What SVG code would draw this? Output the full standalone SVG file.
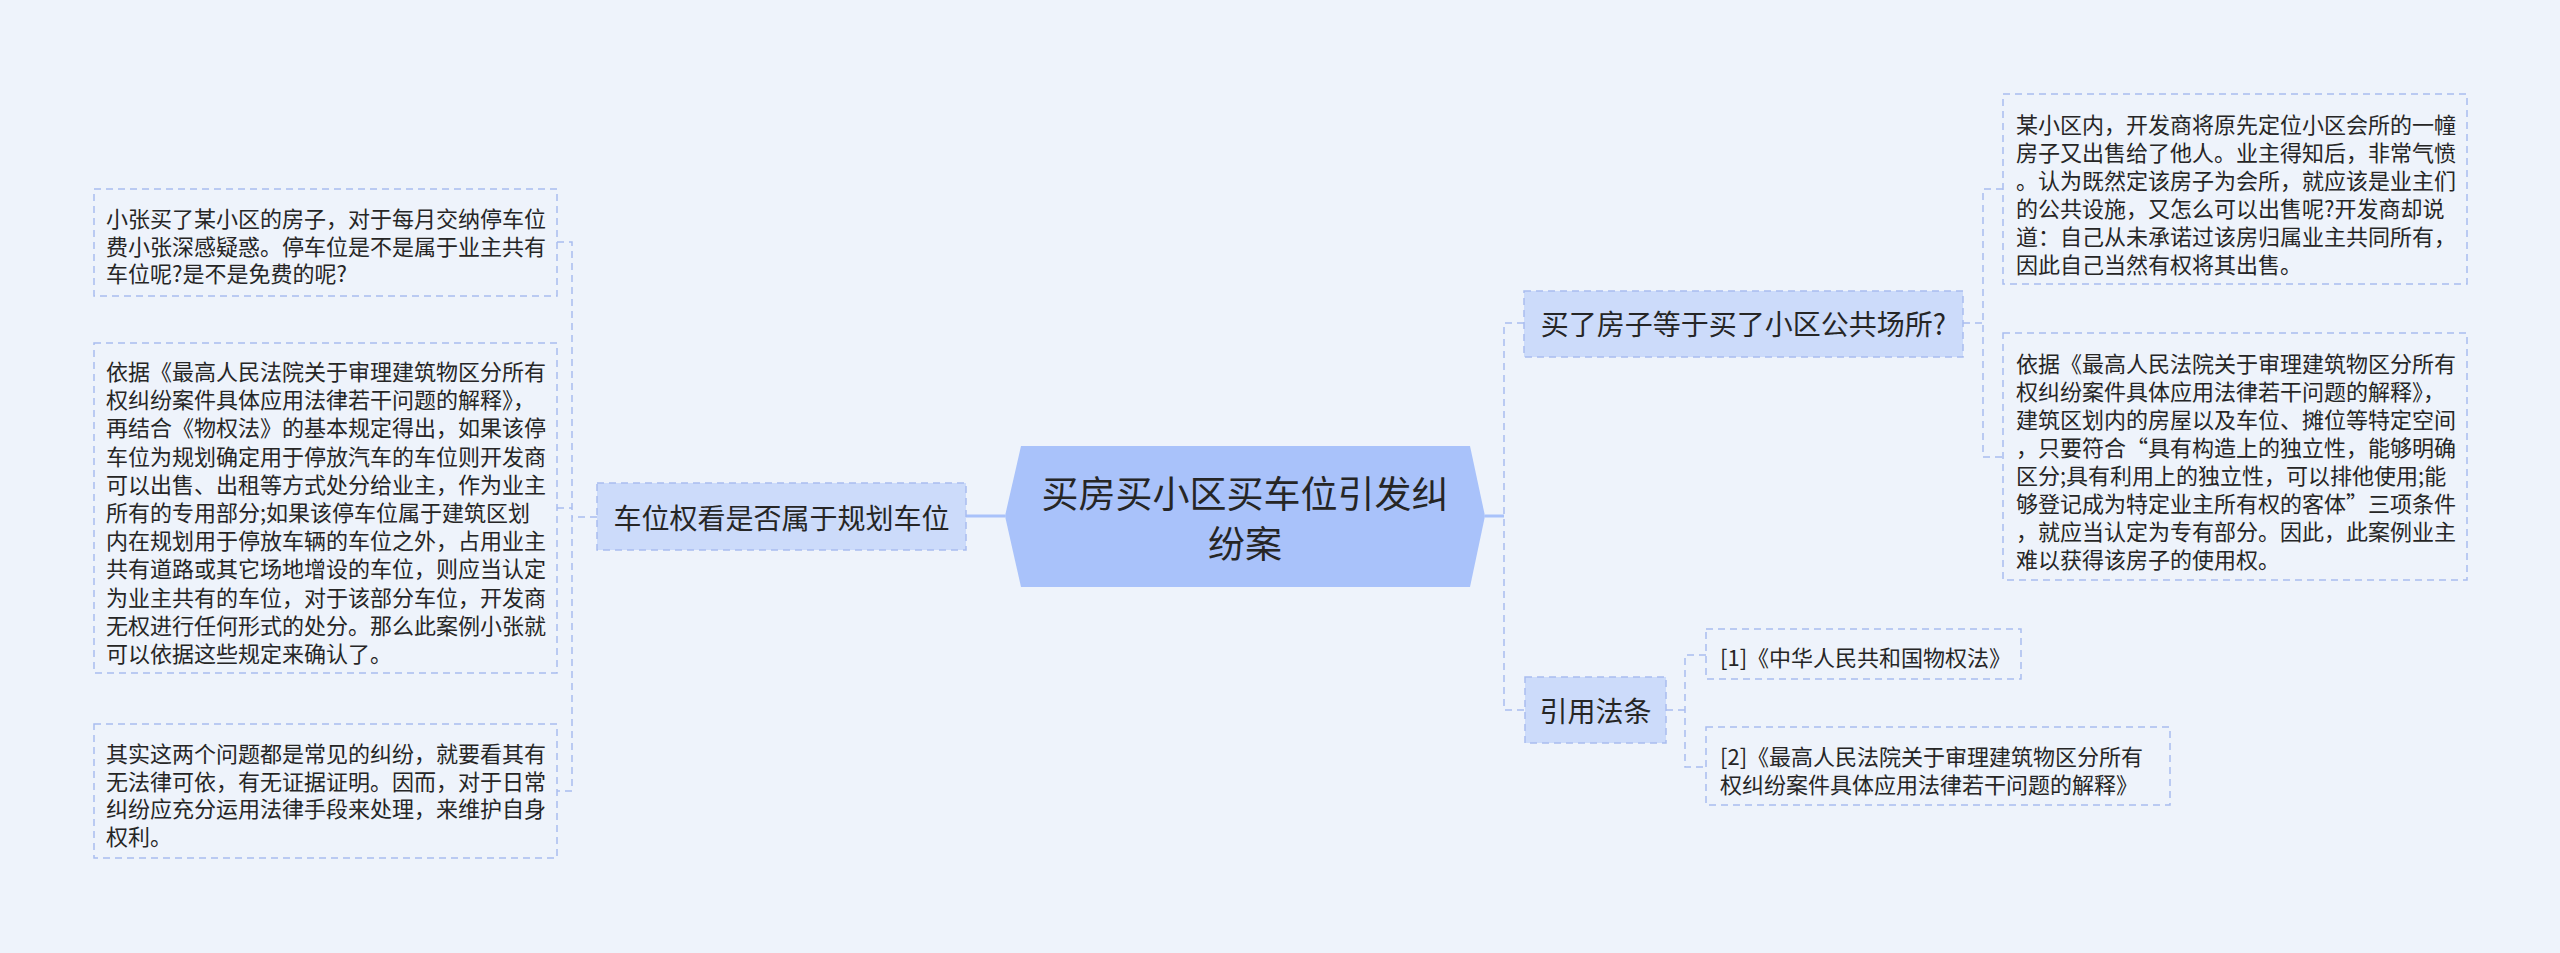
<svg xmlns="http://www.w3.org/2000/svg" width="2560" height="953" viewBox="0 0 2560 953">
<style>
text{font-family:"Noto Sans CJK SC","Noto Sans",sans-serif;fill:#262626;dominant-baseline:central}
.leaf{fill:none;stroke:#a9bdef;stroke-width:1.5;stroke-dasharray:7 5}
.sub{fill:#ccdbfa;stroke:#a9bdef;stroke-width:1.5;stroke-dasharray:7 5}
.lt{font-size:22px}
.st{font-size:28px;text-anchor:middle}
.rt{font-size:37px;text-anchor:middle}
.dc{fill:none;stroke:#a9bdef;stroke-width:1.5;stroke-dasharray:7 5}
.sc{fill:none;stroke:#a9c2fa;stroke-width:3}
</style>
<rect width="2560" height="953" fill="#eef3fb"/>
<g id="connectors">
<path class="sc" d="M966 516 H1005"/>
<path class="sc" d="M1485 516 H1504"/>
<path class="dc" d="M597 517 H572"/>
<path class="dc" d="M557 242 H572 V791 H557"/>
<path class="dc" d="M557 508 H572"/>
<path class="dc" d="M1524 323 H1504 V710 H1525"/>
<path class="dc" d="M1963 323 H1983"/>
<path class="dc" d="M2003 189 H1983 V457 H2003"/>
<path class="dc" d="M1666 710 H1685"/>
<path class="dc" d="M1706 655 H1685 V767 H1706"/>
</g>
<g id="root">
<polygon points="1021,446 1470,446 1485,516 1470,587 1021,587 1005,516" fill="#a9c2fa"/>
<text class="rt" x="1245" y="492">买房买小区买车位引发纠</text>
<text class="rt" x="1245" y="542">纷案</text>
</g>
<g id="branch-left">
<rect class="sub" x="597" y="483" width="369" height="67"/>
<text class="st" x="781.5" y="517">车位权看是否属于规划车位</text>
</g>
<g id="branch-right-1">
<rect class="sub" x="1524" y="291" width="439" height="66"/>
<text class="st" x="1743.5" y="323">买了房子等于买了小区公共场所?</text>
</g>
<g id="branch-right-2">
<rect class="sub" x="1525" y="677" width="141" height="66"/>
<text class="st" x="1595.5" y="710">引用法条</text>
</g>
<g id="leaf-left-1">
<rect class="leaf" x="94" y="189" width="463" height="107"/>
<text class="lt" x="106" y="217">小张买了某小区的房子，对于每月交纳停车位</text>
<text class="lt" x="106" y="245">费小张深感疑惑。停车位是不是属于业主共有</text>
<text class="lt" x="106" y="272">车位呢?是不是免费的呢?</text>
</g>
<g id="leaf-left-2">
<rect class="leaf" x="94" y="343" width="463" height="330"/>
<text class="lt" x="106" y="370">依据《最高人民法院关于审理建筑物区分所有</text>
<text class="lt" x="106" y="398">权纠纷案件具体应用法律若干问题的解释》，</text>
<text class="lt" x="106" y="426">再结合《物权法》的基本规定得出，如果该停</text>
<text class="lt" x="106" y="455">车位为规划确定用于停放汽车的车位则开发商</text>
<text class="lt" x="106" y="483">可以出售、出租等方式处分给业主，作为业主</text>
<text class="lt" x="106" y="511">所有的专用部分;如果该停车位属于建筑区划</text>
<text class="lt" x="106" y="539">内在规划用于停放车辆的车位之外，占用业主</text>
<text class="lt" x="106" y="567">共有道路或其它场地增设的车位，则应当认定</text>
<text class="lt" x="106" y="596">为业主共有的车位，对于该部分车位，开发商</text>
<text class="lt" x="106" y="624">无权进行任何形式的处分。那么此案例小张就</text>
<text class="lt" x="106" y="652">可以依据这些规定来确认了。</text>
</g>
<g id="leaf-left-3">
<rect class="leaf" x="94" y="724" width="463" height="134"/>
<text class="lt" x="106" y="752">其实这两个问题都是常见的纠纷，就要看其有</text>
<text class="lt" x="106" y="780">无法律可依，有无证据证明。因而，对于日常</text>
<text class="lt" x="106" y="807">纠纷应充分运用法律手段来处理，来维护自身</text>
<text class="lt" x="106" y="835">权利。</text>
</g>
<g id="leaf-right-1">
<rect class="leaf" x="2003" y="94" width="464" height="190"/>
<text class="lt" x="2016" y="123">某小区内，开发商将原先定位小区会所的一幢</text>
<text class="lt" x="2016" y="151">房子又出售给了他人。业主得知后，非常气愤</text>
<text class="lt" x="2016" y="179">。认为既然定该房子为会所，就应该是业主们</text>
<text class="lt" x="2016" y="207">的公共设施，又怎么可以出售呢?开发商却说</text>
<text class="lt" x="2016" y="235">道：自己从未承诺过该房归属业主共同所有，</text>
<text class="lt" x="2016" y="263">因此自己当然有权将其出售。</text>
</g>
<g id="leaf-right-2">
<rect class="leaf" x="2003" y="333" width="464" height="247"/>
<text class="lt" x="2016" y="362">依据《最高人民法院关于审理建筑物区分所有</text>
<text class="lt" x="2016" y="390">权纠纷案件具体应用法律若干问题的解释》，</text>
<text class="lt" x="2016" y="418">建筑区划内的房屋以及车位、摊位等特定空间</text>
<text class="lt" x="2016" y="446">，只要符合“具有构造上的独立性，能够明确</text>
<text class="lt" x="2016" y="474">区分;具有利用上的独立性，可以排他使用;能</text>
<text class="lt" x="2016" y="502">够登记成为特定业主所有权的客体”三项条件</text>
<text class="lt" x="2016" y="530">，就应当认定为专有部分。因此，此案例业主</text>
<text class="lt" x="2016" y="558">难以获得该房子的使用权。</text>
</g>
<g id="cite-1">
<rect class="leaf" x="1706" y="629" width="315" height="50"/>
<text class="lt" x="1720" y="656">[1]《中华人民共和国物权法》</text>
</g>
<g id="cite-2">
<rect class="leaf" x="1706" y="727" width="464" height="78"/>
<text class="lt" x="1720" y="755">[2]《最高人民法院关于审理建筑物区分所有</text>
<text class="lt" x="1720" y="783">权纠纷案件具体应用法律若干问题的解释》</text>
</g>
</svg>
